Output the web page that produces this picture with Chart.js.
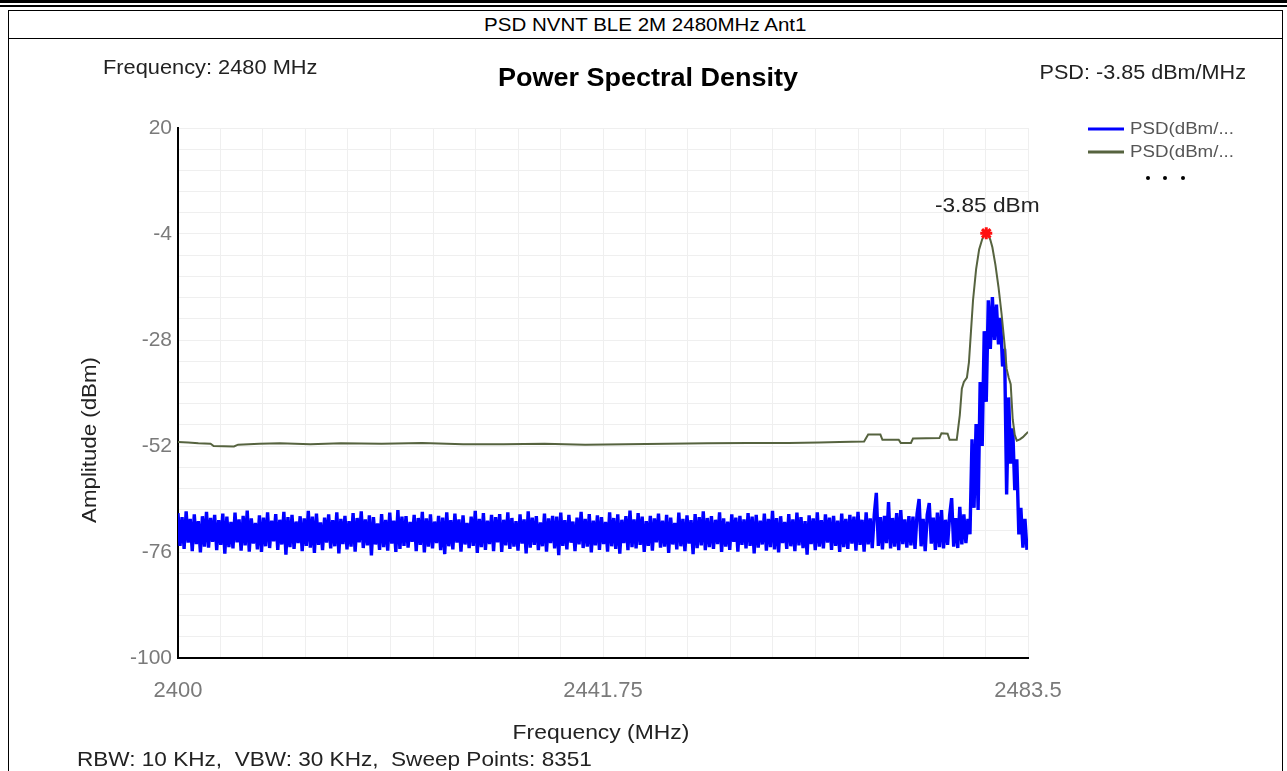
<!DOCTYPE html>
<html>
<head>
<meta charset="utf-8">
<title>PSD NVNT BLE 2M 2480MHz Ant1</title>
<script src="https://cdn.jsdelivr.net/npm/chart.js@4.4.1/dist/chart.umd.min.js"></script>
<style>
  html, body { margin: 0; padding: 0; background: #fff; overflow: hidden; }
  body { width: 1287px; height: 771px; position: relative; font-family: "Liberation Sans", Arial, sans-serif; }
  .rule1 { position: absolute; left: 0; top: 0; width: 1287px; height: 3px; background: #000; }
  .rule2 { position: absolute; left: 0; top: 5px; width: 1287px; height: 2px; background: #000; }
  .frame { position: absolute; left: 8px; top: 10px; width: 1275px; height: 800px; border: 1px solid #000; box-sizing: border-box; }
  .caption { height: 27px; line-height: 27px; border-bottom: 1px solid #000; text-align: center; font-size: 19px; color: #000; }
  .caption span { display: inline-block; transform: scaleX(1.08); }
  #psd { position: absolute; left: 0; top: 0; }
</style>
</head>
<body>
<div class="rule1"></div>
<div class="rule2"></div>
<div class="frame"><div class="caption"><span>PSD NVNT BLE 2M 2480MHz Ant1</span></div></div>
<canvas id="psd" width="1287" height="771"></canvas>
<script>
// Sweep grid of the decimated trace (MHz)
const sweepStart = 2400;
const sweepStep = 0.2;

// Trace 1 (blue): decimated PSD samples, dBm
const blueVals = [
  -67.2,-74.6,-68.1,-75.3,-66.8,-73.9,-68.5,-75.8,-67.5,-74.2,-69.0,-76.1,-67.9,-74.8,-66.9,-75.0,-68.3,-73.7,-67.6,-75.6,
  -68.8,-74.4,-67.3,-76.4,-68.0,-74.9,-69.2,-75.2,-67.1,-73.8,-68.6,-75.7,-67.8,-74.5,-66.6,-75.9,-68.4,-74.1,-69.4,-75.4,
  -67.7,-76.0,-68.2,-74.7,-67.0,-75.1,-68.9,-73.6,-67.4,-75.5,-68.7,-74.3,-66.9,-76.6,-68.1,-74.9,-67.6,-75.3,-69.1,-74.0,
  -67.9,-75.8,-68.4,-74.6,-66.7,-75.0,-68.0,-76.2,-67.3,-74.4,-69.3,-75.6,-68.2,-73.9,-67.5,-75.2,-68.8,-74.7,-67.0,-76.3,
  -68.5,-74.2,-67.8,-75.4,-69.0,-74.8,-67.2,-75.9,-68.3,-73.8,-66.8,-75.1,-68.6,-74.5,-67.7,-76.8,-68.1,-74.3,-69.5,-75.5,
  -67.4,-74.9,-68.7,-75.7,-67.1,-74.1,-68.9,-76.0,-66.5,-75.3,-68.0,-74.6,-67.9,-75.0,-69.2,-73.7,-67.6,-75.8,-68.3,-74.4,
  -66.9,-76.1,-68.4,-74.8,-67.5,-75.2,-69.1,-74.0,-67.8,-75.6,-68.2,-76.5,-67.0,-74.7,-68.8,-75.4,-67.3,-73.9,-68.6,-75.9,
  -67.7,-74.3,-69.4,-75.1,-68.0,-74.6,-66.7,-76.2,-68.5,-74.9,-67.2,-75.5,-68.9,-74.2,-67.6,-75.8,-68.1,-73.8,-67.4,-76.0,
  -68.7,-74.5,-67.0,-75.3,-68.3,-74.8,-69.0,-75.7,-67.5,-74.1,-68.6,-76.3,-66.8,-75.0,-68.2,-74.4,-67.9,-75.6,-69.3,-74.7,
  -67.3,-75.9,-68.4,-74.0,-67.8,-75.2,-68.0,-76.7,-67.1,-74.6,-68.8,-75.4,-67.6,-73.9,-69.1,-75.8,-68.2,-74.3,-66.9,-75.1,
  -68.5,-74.8,-67.4,-76.1,-68.9,-74.5,-67.7,-75.5,-68.1,-74.2,-69.2,-75.9,-67.0,-74.7,-68.3,-75.3,-67.5,-76.4,-68.7,-74.0,
  -67.9,-75.6,-66.6,-74.9,-68.6,-75.2,-67.2,-74.4,-68.0,-76.0,-69.0,-74.6,-67.8,-75.7,-68.4,-73.8,-67.3,-75.0,-68.9,-74.8,
  -67.6,-76.2,-68.2,-74.3,-69.4,-75.4,-67.1,-74.7,-68.5,-75.8,-67.7,-74.1,-68.8,-76.5,-67.4,-75.1,-68.1,-74.5,-66.8,-75.6,
  -68.3,-74.9,-67.9,-75.3,-68.7,-74.2,-67.0,-76.0,-68.4,-74.8,-69.1,-75.5,-67.5,-73.7,-68.2,-75.9,-67.8,-74.4,-68.6,-75.2,
  -67.2,-74.6,-68.0,-76.3,-67.6,-75.0,-68.9,-74.3,-67.3,-75.7,-68.5,-74.9,-66.7,-75.4,-68.3,-76.1,-67.9,-74.0,-69.2,-75.3,
  -67.4,-74.7,-68.6,-75.8,-67.1,-74.5,-68.1,-75.1,-69.0,-76.6,-67.7,-74.2,-68.4,-75.6,-67.0,-74.8,-68.8,-75.2,-67.5,-73.9,
  -68.2,-75.5,-67.8,-74.6,-68.9,-76.0,-67.3,-74.9,-68.5,-75.3,-67.6,-74.1,-68.0,-75.7,-66.9,-74.4,-68.7,-75.9,-67.0,-74.3,
  -68.4,-75.1,-67.5,-62.6,-74.6,-68.1,-75.4,-67.8,-74.0,-64.7,-75.2,-68.3,-74.8,-67.2,-75.6,-66.5,-74.2,-68.6,-75.0,-67.9,
  -74.5,-68.0,-75.3,-67.4,-64.0,-74.7,-68.5,-75.8,-67.6,-64.9,-74.1,-68.2,-75.5,-67.1,-74.9,-66.5,-75.2,-68.7,-74.4,-67.8,
  -63.8,-74.8,-68.3,-75.1,-65.8,-74.3,-67.5,-74.0,-68.5,-72.0,-50.5,-66.0,-47.0,-66.5,-37.5,-52.0,-26.0,-42.0,-19.0,-30.0,
  -18.3,-28.0,-20.0,-29.0,-23.0,-34.0,-30.0,-63.0,-41.0,-56.0,-48.0,-62.0,-55.0,-72.0,-66.0,-75.0,-68.5,-75.5
];

// Trace 2 (olive): max-hold PSD, breakpoints in MHz and dBm
const greenFreqs = [
  2400.0, 2401.0, 2402.0, 2403.2, 2403.5, 2405.5, 2405.9, 2408.0, 2410.0, 2413.0,
  2416.0, 2420.0, 2424.0, 2428.0, 2432.0, 2436.0, 2440.0, 2444.0, 2448.0, 2452.0,
  2456.0, 2460.0, 2463.0, 2465.0, 2467.4, 2467.8, 2469.0, 2469.2, 2470.8, 2471.0,
  2472.0, 2472.2, 2474.8, 2475.0, 2475.6, 2475.8, 2476.5, 2476.8, 2477.0, 2477.2,
  2477.5, 2477.7, 2477.9, 2478.1, 2478.4, 2478.7, 2479.0, 2479.2, 2479.4, 2479.6,
  2479.8, 2480.0, 2480.3, 2480.6, 2480.9, 2481.2, 2481.4, 2481.6, 2481.8, 2482.0,
  2482.2, 2482.4, 2482.7, 2483.0, 2483.3, 2483.5
];
const greenVals = [
  -51.1, -51.2, -51.4, -51.5, -52.0, -52.1, -51.7, -51.5, -51.4, -51.6,
  -51.4, -51.5, -51.3, -51.6, -51.6, -51.5, -51.7, -51.6, -51.5, -51.4,
  -51.3, -51.3, -51.2, -51.1, -51.0, -49.4, -49.4, -50.6, -50.6, -51.3,
  -51.3, -50.3, -50.2, -49.1, -49.2, -50.6, -50.6, -45.0, -39.0, -37.5,
  -36.5, -33.0, -26.0, -19.0, -12.0, -7.5, -5.2, -4.2, -3.85, -4.2,
  -5.3, -7.0, -11.0, -16.0, -22.0, -29.0, -34.5, -36.5, -38.0, -46.0,
  -49.5, -50.8, -50.5, -50.0, -49.3, -48.8
];

// Marker at the maximum of trace 2
const peakFreq = 2479.4;
const peakVal = -3.85;

// Labelled axis ticks
const xTickLabels = [2400, 2441.75, 2483.5];
const yTickLabels = [-100, -76, -52, -28, -4, 20];
const gridDivisions = 5;

const FONT = '"Liberation Sans", Arial, sans-serif';

function subdivide(labels, parts) {
  const out = [];
  for (let k = 0; k < labels.length - 1; k++) {
    const a = labels[k], b = labels[k + 1];
    for (let j = 0; j < parts; j++) out.push({ value: a + (b - a) * j / parts });
  }
  out.push({ value: labels[labels.length - 1] });
  return out;
}
function isLabelled(v, labels) {
  return labels.some(l => Math.abs(l - v) < 1e-6);
}

// text slightly widened, the way the instrument software renders it
function wideText(ctx, text, x, y, align, sx) {
  ctx.save();
  ctx.translate(x, y);
  ctx.scale(sx, 1);
  ctx.textAlign = align;
  ctx.fillText(text, 0, 0);
  ctx.restore();
}

const blueData = blueVals.map((v, i) => ({ x: sweepStart + i * sweepStep, y: v }));
const greenData = greenFreqs.map((f, i) => ({ x: f, y: greenVals[i] }));

const annotations = {
  id: 'psdText',
  afterDraw(chart) {
    const ctx = chart.ctx;
    const xs = chart.scales.x, ys = chart.scales.y;
    ctx.save();
    ctx.textBaseline = 'middle';

    // header line
    ctx.fillStyle = '#222';
    ctx.font = '20px ' + FONT;
    wideText(ctx, 'Frequency: 2480 MHz', 103, 68, 'left', 1.09);
    wideText(ctx, 'PSD: -3.85 dBm/MHz', 1246, 73, 'right', 1.08);
    ctx.fillStyle = '#000';
    ctx.font = 'bold 25px ' + FONT;
    wideText(ctx, 'Power Spectral Density', 648, 79, 'center', 1.08);

    // axis titles
    ctx.fillStyle = '#222';
    ctx.font = '21px ' + FONT;
    wideText(ctx, 'Frequency (MHz)', 601, 733, 'center', 1.09);
    ctx.save();
    ctx.translate(90, 440);
    ctx.rotate(-Math.PI / 2);
    ctx.font = '21px ' + FONT;
    wideText(ctx, 'Amplitude (dBm)', 0, 0, 'center', 1.06);
    ctx.restore();

    // footer
    ctx.font = '21px ' + FONT;
    wideText(ctx, 'RBW: 10 KHz,  VBW: 30 KHz,  Sweep Points: 8351', 77, 760, 'left', 1.075);

    // peak label
    ctx.font = '21px ' + FONT;
    ctx.fillStyle = '#222';
    wideText(ctx, '-3.85 dBm', xs.getPixelForValue(peakFreq) + 1, ys.getPixelForValue(peakVal) - 27, 'center', 1.08);

    // legend
    const ds = chart.data.datasets;
    const rows = [129, 152];
    ctx.font = '16px ' + FONT;
    for (let k = 0; k < 2; k++) {
      ctx.strokeStyle = ds[k].borderColor;
      ctx.lineWidth = 3;
      ctx.beginPath();
      ctx.moveTo(1088, rows[k]);
      ctx.lineTo(1124, rows[k]);
      ctx.stroke();
      ctx.fillStyle = '#555';
      wideText(ctx, ds[k].label.slice(0, 8) + '...', 1130, rows[k] + 1, 'left', 1.17);
    }
    ctx.fillStyle = '#000';
    [1148, 1165, 1183].forEach(x => {
      ctx.beginPath();
      ctx.arc(x, 178, 2, 0, Math.PI * 2);
      ctx.fill();
    });
    ctx.restore();
  }
};

new Chart(document.getElementById('psd'), {
  type: 'line',
  data: {
    datasets: [
      {
        label: 'PSD(dBm/MHz) Trace1',
        data: blueData,
        borderColor: '#0000ff',
        borderWidth: 3.4,
        borderJoinStyle: 'bevel',
        pointRadius: 0,
        tension: 0,
        order: 3
      },
      {
        label: 'PSD(dBm/MHz) Trace2',
        data: greenData,
        borderColor: '#56633f',
        borderWidth: 2,
        pointRadius: 0,
        tension: 0,
        order: 2
      },
      {
        label: 'Peak',
        data: [{ x: peakFreq, y: peakVal }],
        showLine: false,
        pointStyle: 'star',
        pointRadius: 6,
        borderWidth: 3,
        borderColor: '#ff1010',
        backgroundColor: '#ff1010',
        order: 1
      }
    ]
  },
  options: {
    responsive: false,
    animation: false,
    devicePixelRatio: 1,
    layout: { padding: { left: 0, top: 128, right: 259, bottom: 73 } },
    plugins: {
      legend: { display: false },
      title: { display: false },
      tooltip: { enabled: false }
    },
    scales: {
      x: {
        type: 'linear',
        min: xTickLabels[0],
        max: xTickLabels[xTickLabels.length - 1],
        afterBuildTicks: s => { s.ticks = subdivide(xTickLabels, 2 * gridDivisions); },
        afterFit: s => { s.height = 40; },
        grid: { color: '#efefef', lineWidth: 1, drawTicks: false },
        border: { display: true, color: '#000', width: 2 },
        ticks: {
          autoSkip: false,
          maxRotation: 0,
          padding: 20,
          color: '#7a7a7a',
          font: { family: FONT, size: 22 },
          callback: v => isLabelled(v, xTickLabels) ? String(+v.toFixed(2)) : ''
        }
      },
      y: {
        type: 'linear',
        min: yTickLabels[0],
        max: yTickLabels[yTickLabels.length - 1],
        afterBuildTicks: s => { s.ticks = subdivide(yTickLabels, gridDivisions); },
        afterFit: s => { s.width = 178; },
        grid: { color: '#efefef', lineWidth: 1, drawTicks: false },
        border: { display: true, color: '#000', width: 2 },
        ticks: {
          autoSkip: false,
          padding: 6,
          color: '#7a7a7a',
          font: { family: FONT, size: 21 },
          callback: v => isLabelled(v, yTickLabels) ? String(Math.round(v)) : ''
        }
      }
    }
  },
  plugins: [annotations]
});
</script>
</body>
</html>
